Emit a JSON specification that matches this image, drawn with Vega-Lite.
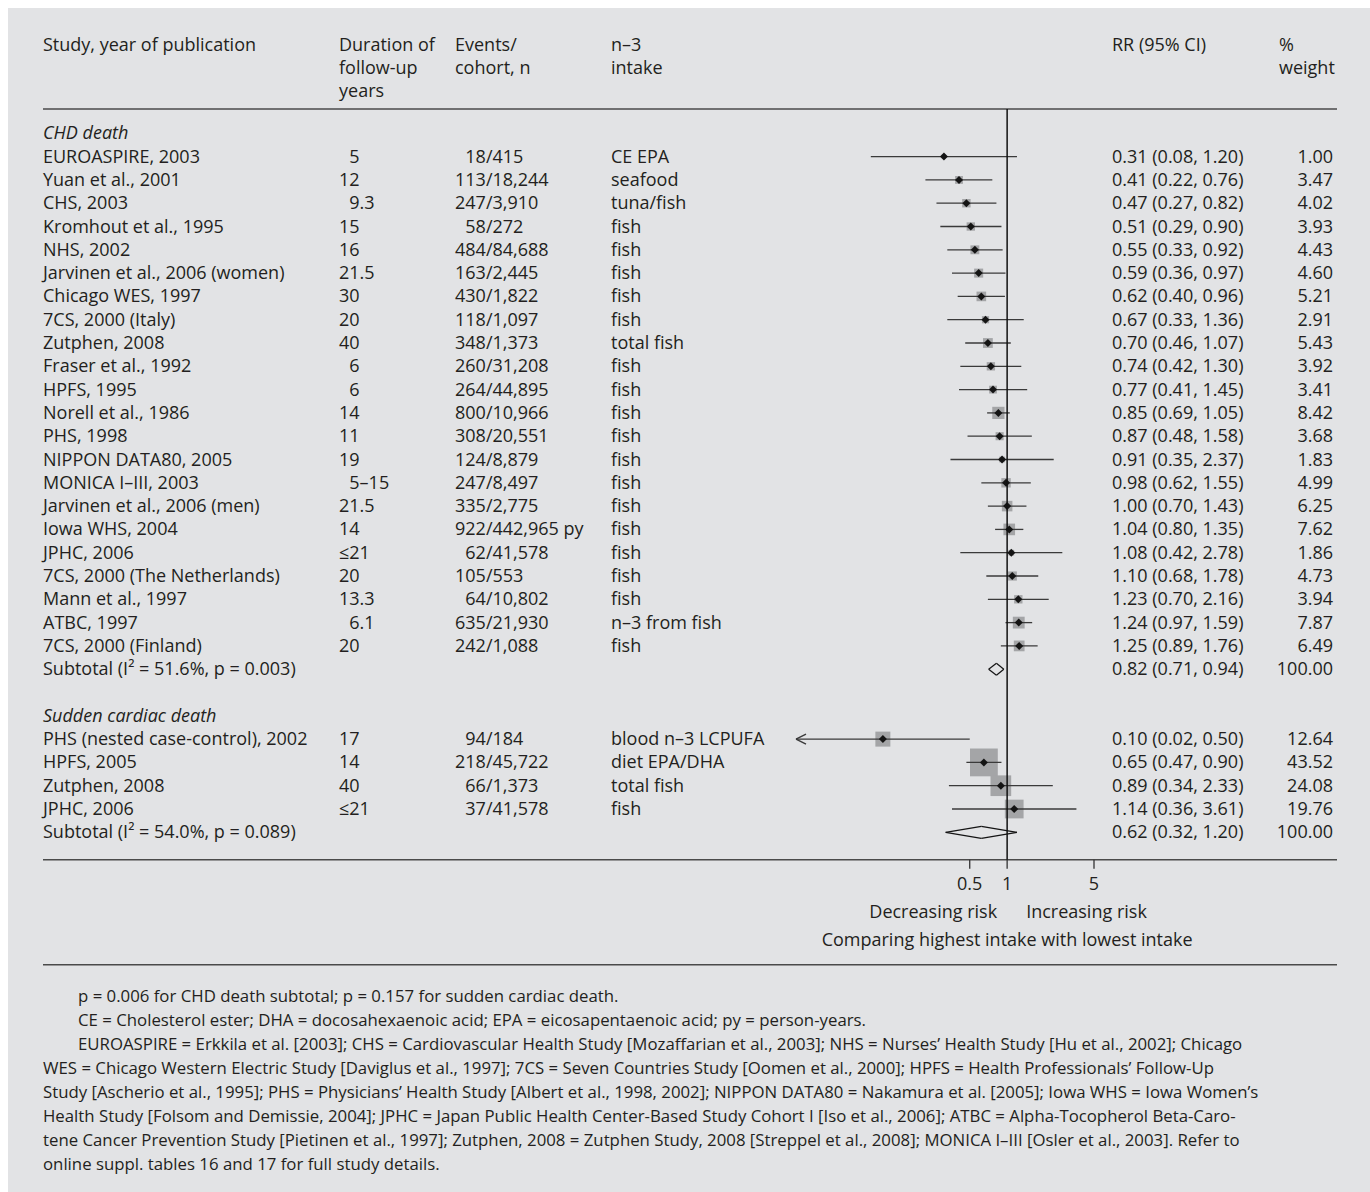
{
  "$schema": "https://vega.github.io/schema/vega-lite/v6.json",
  "width": 1362,
  "height": 1184,
  "autosize": {"type": "none"},
  "padding": {"left": 8, "top": 8, "right": 0, "bottom": 0},
  "background": "#ffffff",
  "config": {
    "view": {"fill": "#e2e3e5", "stroke": null},
    "text": {"font": "Open Sans", "fontSize": 18, "color": "#231f20", "lineBreak": "\n", "lineHeight": 23, "dy": 1}
  },
  "datasets": {
    "rows": [
      {"r": -3.79, "kind": "head", "study": "Study, year of publication", "dur": "Duration of\nfollow-up\nyears", "events": "Events/\ncohort, n", "intake": "n–3\nintake", "rr": "RR (95% CI)", "wtHead": "%\nweight"},
      {"r": 0, "kind": "label", "study": "CHD death"},
      {"r": 1, "kind": "study", "study": "EUROASPIRE, 2003", "dur": "\u200b\u20075", "events": "\u200b\u200718/415", "intake": "CE EPA", "est": 0.31, "lo": 0.08, "hi": 1.20, "rr": "0.31 (0.08, 1.20)", "wt": 1.00},
      {"r": 2, "kind": "study", "study": "Yuan et al., 2001", "dur": "12", "events": "113/18,244", "intake": "seafood", "est": 0.41, "lo": 0.22, "hi": 0.76, "rr": "0.41 (0.22, 0.76)", "wt": 3.47},
      {"r": 3, "kind": "study", "study": "CHS, 2003", "dur": "\u200b\u20079.3", "events": "247/3,910", "intake": "tuna/fish", "est": 0.47, "lo": 0.27, "hi": 0.82, "rr": "0.47 (0.27, 0.82)", "wt": 4.02},
      {"r": 4, "kind": "study", "study": "Kromhout et al., 1995", "dur": "15", "events": "\u200b\u200758/272", "intake": "fish", "est": 0.51, "lo": 0.29, "hi": 0.90, "rr": "0.51 (0.29, 0.90)", "wt": 3.93},
      {"r": 5, "kind": "study", "study": "NHS, 2002", "dur": "16", "events": "484/84,688", "intake": "fish", "est": 0.55, "lo": 0.33, "hi": 0.92, "rr": "0.55 (0.33, 0.92)", "wt": 4.43},
      {"r": 6, "kind": "study", "study": "Jarvinen et al., 2006 (women)", "dur": "21.5", "events": "163/2,445", "intake": "fish", "est": 0.59, "lo": 0.36, "hi": 0.97, "rr": "0.59 (0.36, 0.97)", "wt": 4.60},
      {"r": 7, "kind": "study", "study": "Chicago WES, 1997", "dur": "30", "events": "430/1,822", "intake": "fish", "est": 0.62, "lo": 0.40, "hi": 0.96, "rr": "0.62 (0.40, 0.96)", "wt": 5.21},
      {"r": 8, "kind": "study", "study": "7CS, 2000 (Italy)", "dur": "20", "events": "118/1,097", "intake": "fish", "est": 0.67, "lo": 0.33, "hi": 1.36, "rr": "0.67 (0.33, 1.36)", "wt": 2.91},
      {"r": 9, "kind": "study", "study": "Zutphen, 2008", "dur": "40", "events": "348/1,373", "intake": "total fish", "est": 0.70, "lo": 0.46, "hi": 1.07, "rr": "0.70 (0.46, 1.07)", "wt": 5.43},
      {"r": 10, "kind": "study", "study": "Fraser et al., 1992", "dur": "\u200b\u20076", "events": "260/31,208", "intake": "fish", "est": 0.74, "lo": 0.42, "hi": 1.30, "rr": "0.74 (0.42, 1.30)", "wt": 3.92},
      {"r": 11, "kind": "study", "study": "HPFS, 1995", "dur": "\u200b\u20076", "events": "264/44,895", "intake": "fish", "est": 0.77, "lo": 0.41, "hi": 1.45, "rr": "0.77 (0.41, 1.45)", "wt": 3.41},
      {"r": 12, "kind": "study", "study": "Norell et al., 1986", "dur": "14", "events": "800/10,966", "intake": "fish", "est": 0.85, "lo": 0.69, "hi": 1.05, "rr": "0.85 (0.69, 1.05)", "wt": 8.42},
      {"r": 13, "kind": "study", "study": "PHS, 1998", "dur": "11", "events": "308/20,551", "intake": "fish", "est": 0.87, "lo": 0.48, "hi": 1.58, "rr": "0.87 (0.48, 1.58)", "wt": 3.68},
      {"r": 14, "kind": "study", "study": "NIPPON DATA80, 2005", "dur": "19", "events": "124/8,879", "intake": "fish", "est": 0.91, "lo": 0.35, "hi": 2.37, "rr": "0.91 (0.35, 2.37)", "wt": 1.83},
      {"r": 15, "kind": "study", "study": "MONICA I–III, 2003", "dur": "\u200b\u20075–15", "events": "247/8,497", "intake": "fish", "est": 0.98, "lo": 0.62, "hi": 1.55, "rr": "0.98 (0.62, 1.55)", "wt": 4.99},
      {"r": 16, "kind": "study", "study": "Jarvinen et al., 2006 (men)", "dur": "21.5", "events": "335/2,775", "intake": "fish", "est": 1.00, "lo": 0.70, "hi": 1.43, "rr": "1.00 (0.70, 1.43)", "wt": 6.25},
      {"r": 17, "kind": "study", "study": "Iowa WHS, 2004", "dur": "14", "events": "922/442,965 py", "intake": "fish", "est": 1.04, "lo": 0.80, "hi": 1.35, "rr": "1.04 (0.80, 1.35)", "wt": 7.62},
      {"r": 18, "kind": "study", "study": "JPHC, 2006", "dur": "≤21", "events": "\u200b\u200762/41,578", "intake": "fish", "est": 1.08, "lo": 0.42, "hi": 2.78, "rr": "1.08 (0.42, 2.78)", "wt": 1.86},
      {"r": 19, "kind": "study", "study": "7CS, 2000 (The Netherlands)", "dur": "20", "events": "105/553", "intake": "fish", "est": 1.10, "lo": 0.68, "hi": 1.78, "rr": "1.10 (0.68, 1.78)", "wt": 4.73},
      {"r": 20, "kind": "study", "study": "Mann et al., 1997", "dur": "13.3", "events": "\u200b\u200764/10,802", "intake": "fish", "est": 1.23, "lo": 0.70, "hi": 2.16, "rr": "1.23 (0.70, 2.16)", "wt": 3.94},
      {"r": 21, "kind": "study", "study": "ATBC, 1997", "dur": "\u200b\u20076.1", "events": "635/21,930", "intake": "n–3 from fish", "est": 1.24, "lo": 0.97, "hi": 1.59, "rr": "1.24 (0.97, 1.59)", "wt": 7.87},
      {"r": 22, "kind": "study", "study": "7CS, 2000 (Finland)", "dur": "20", "events": "242/1,088", "intake": "fish", "est": 1.25, "lo": 0.89, "hi": 1.76, "rr": "1.25 (0.89, 1.76)", "wt": 6.49},
      {"r": 23, "kind": "sub", "study": "Subtotal (I² = 51.6%, p = 0.003)", "est": 0.82, "lo": 0.71, "hi": 0.94, "rr": "0.82 (0.71, 0.94)", "wt": 100.00},
      {"r": 25, "kind": "label", "study": "Sudden cardiac death"},
      {"r": 26, "kind": "study", "study": "PHS (nested case-control), 2002", "dur": "17", "events": "\u200b\u200794/184", "intake": "blood n–3 LCPUFA", "est": 0.10, "lo": 0.02, "hi": 0.50, "rr": "0.10 (0.02, 0.50)", "wt": 12.64},
      {"r": 27, "kind": "study", "study": "HPFS, 2005", "dur": "14", "events": "218/45,722", "intake": "diet EPA/DHA", "est": 0.65, "lo": 0.47, "hi": 0.90, "rr": "0.65 (0.47, 0.90)", "wt": 43.52},
      {"r": 28, "kind": "study", "study": "Zutphen, 2008", "dur": "40", "events": "\u200b\u200766/1,373", "intake": "total fish", "est": 0.89, "lo": 0.34, "hi": 2.33, "rr": "0.89 (0.34, 2.33)", "wt": 24.08},
      {"r": 29, "kind": "study", "study": "JPHC, 2006", "dur": "≤21", "events": "\u200b\u200737/41,578", "intake": "fish", "est": 1.14, "lo": 0.36, "hi": 3.61, "rr": "1.14 (0.36, 3.61)", "wt": 19.76},
      {"r": 30, "kind": "sub", "study": "Subtotal (I² = 54.0%, p = 0.089)", "est": 0.62, "lo": 0.32, "hi": 1.20, "rr": "0.62 (0.32, 1.20)", "wt": 100.00}
    ],
    "ticks": [
      {"v": 0.5, "label": "0.5"},
      {"v": 1, "label": "1"},
      {"v": 5, "label": "5"}
    ],
    "notes": [
      {"block": "a", "text": "p = 0.006 for CHD death subtotal; p = 0.157 for sudden cardiac death.\nCE = Cholesterol ester; DHA = docosahexaenoic acid; EPA = eicosapentaenoic acid; py = person-years.\nEUROASPIRE = Erkkila et al. [2003]; CHS = Cardiovascular Health Study [Mozaffarian et al., 2003]; NHS = Nurses’ Health Study [Hu et al., 2002]; Chicago"},
      {"block": "b", "text": "WES = Chicago Western Electric Study [Daviglus et al., 1997]; 7CS = Seven Countries Study [Oomen et al., 2000]; HPFS =  Health Professionals’ Follow-Up\nStudy [Ascherio et al., 1995]; PHS = Physicians’ Health Study [Albert et al., 1998, 2002]; NIPPON DATA80 = Nakamura et al. [2005]; Iowa WHS = Iowa Women’s\nHealth Study [Folsom and Demissie, 2004]; JPHC = Japan Public Health Center-Based Study Cohort I [Iso et al., 2006]; ATBC = Alpha-Tocopherol Beta-Caro-\ntene Cancer Prevention Study [Pietinen et al., 1997]; Zutphen, 2008 = Zutphen Study, 2008 [Streppel et al., 2008]; MONICA I–III [Osler et al., 2003]. Refer to\nonline suppl. tables 16 and 17 for full study details."}
    ]
  },
  "resolve": {"scale": {"x": "independent"}},
  "layer": [
    {
      "layer": [
        {
          "data": {"name": "rows"},
          "transform": [{"filter": "datum.kind != 'label'"}],
          "mark": {"type": "text", "align": "left", "baseline": "middle"},
          "encoding": {
            "x": {"datum": 35, "type": "quantitative", "scale": {"domain": [0, 1362], "nice": false, "zero": false}, "axis": null},
            "y": {"field": "r", "type": "quantitative", "scale": {"domain": [-5.378, 45.437], "reverse": true, "nice": false, "zero": false}, "axis": null},
            "text": {"field": "study"}
          }
        },
        {
          "data": {"name": "rows"},
          "transform": [{"filter": "datum.kind == 'label'"}],
          "mark": {"type": "text", "align": "left", "baseline": "middle", "fontStyle": "italic"},
          "encoding": {
            "x": {"datum": 35, "type": "quantitative", "axis": null},
            "y": {"field": "r", "type": "quantitative", "axis": null},
            "text": {"field": "study"}
          }
        },
        {
          "data": {"name": "rows"},
          "transform": [{"filter": "isValid(datum.dur)"}],
          "mark": {"type": "text", "align": "left", "baseline": "middle"},
          "encoding": {
            "x": {"datum": 331, "type": "quantitative", "axis": null},
            "y": {"field": "r", "type": "quantitative", "axis": null},
            "text": {"field": "dur"}
          }
        },
        {
          "data": {"name": "rows"},
          "transform": [{"filter": "isValid(datum.events)"}],
          "mark": {"type": "text", "align": "left", "baseline": "middle"},
          "encoding": {
            "x": {"datum": 447, "type": "quantitative", "axis": null},
            "y": {"field": "r", "type": "quantitative", "axis": null},
            "text": {"field": "events"}
          }
        },
        {
          "data": {"name": "rows"},
          "transform": [{"filter": "isValid(datum.intake)"}],
          "mark": {"type": "text", "align": "left", "baseline": "middle"},
          "encoding": {
            "x": {"datum": 603, "type": "quantitative", "axis": null},
            "y": {"field": "r", "type": "quantitative", "axis": null},
            "text": {"field": "intake"}
          }
        },
        {
          "data": {"name": "rows"},
          "transform": [{"filter": "isValid(datum.rr)"}],
          "mark": {"type": "text", "align": "left", "baseline": "middle"},
          "encoding": {
            "x": {"datum": 1104, "type": "quantitative", "axis": null},
            "y": {"field": "r", "type": "quantitative", "axis": null},
            "text": {"field": "rr"}
          }
        },
        {
          "data": {"name": "rows"},
          "transform": [{"filter": "isValid(datum.wt)"}],
          "mark": {"type": "text", "align": "right", "baseline": "middle"},
          "encoding": {
            "x": {"datum": 1325, "type": "quantitative", "axis": null},
            "y": {"field": "r", "type": "quantitative", "axis": null},
            "text": {"field": "wt", "type": "quantitative", "format": ".2f"}
          }
        },
        {
          "data": {"name": "rows"},
          "transform": [{"filter": "isValid(datum.wtHead)"}],
          "mark": {"type": "text", "align": "left", "baseline": "middle"},
          "encoding": {
            "x": {"datum": 1271, "type": "quantitative", "axis": null},
            "y": {"field": "r", "type": "quantitative", "axis": null},
            "text": {"field": "wtHead"}
          }
        },
        {
          "data": {"values": [{}]},
          "mark": {"type": "rule", "color": "#4a4a4a", "strokeWidth": 1.5},
          "encoding": {
            "x": {"datum": 35, "type": "quantitative", "axis": null},
            "x2": {"datum": 1329},
            "y": {"datum": -1.043, "type": "quantitative", "axis": null}
          }
        },
        {
          "data": {"values": [{}]},
          "mark": {"type": "rule", "color": "#4a4a4a", "strokeWidth": 1.5},
          "encoding": {
            "x": {"datum": 35, "type": "quantitative", "axis": null},
            "x2": {"datum": 1329},
            "y": {"datum": 31.18, "type": "quantitative", "axis": null}
          }
        },
        {
          "data": {"values": [{}]},
          "mark": {"type": "rule", "color": "#4a4a4a", "strokeWidth": 1.5},
          "encoding": {
            "x": {"datum": 35, "type": "quantitative", "axis": null},
            "x2": {"datum": 1329},
            "y": {"datum": 35.687, "type": "quantitative", "axis": null}
          }
        },
        {
          "data": {"name": "notes"},
          "transform": [{"filter": "datum.block == 'a'"}],
          "mark": {"type": "text", "align": "left", "baseline": "middle", "lineHeight": 24, "fontSize": 16.8},
          "encoding": {
            "x": {"datum": 70, "type": "quantitative", "axis": null},
            "y": {"datum": 37.027, "type": "quantitative", "axis": null},
            "text": {"field": "text"}
          }
        },
        {
          "data": {"name": "notes"},
          "transform": [{"filter": "datum.block == 'b'"}],
          "mark": {"type": "text", "align": "left", "baseline": "middle", "lineHeight": 24, "fontSize": 16.8},
          "encoding": {
            "x": {"datum": 35, "type": "quantitative", "axis": null},
            "y": {"datum": 40.117, "type": "quantitative", "axis": null},
            "text": {"field": "text"}
          }
        }
      ]
    },
    {
      "layer": [
        {
          "data": {"name": "rows"},
          "transform": [{"filter": "datum.kind == 'study'"}],
          "mark": {"type": "point", "shape": "square", "filled": true, "color": "#a4a5a7", "opacity": 1, "strokeWidth": 0},
          "encoding": {
            "x": {"field": "est", "type": "quantitative", "scale": {"type": "log", "domain": [0.02, 5], "range": [788, 1086], "nice": false}, "axis": null},
            "y": {"field": "r", "type": "quantitative", "axis": null},
            "size": {"field": "wt", "type": "quantitative", "scale": {"domain": [0, 45], "range": [0, 800], "zero": true}, "legend": null}
          }
        },
        {
          "data": {"name": "rows"},
          "transform": [{"filter": "datum.kind == 'study'"}],
          "mark": {"type": "rule", "color": "#3a3a3a", "strokeWidth": 1.3},
          "encoding": {
            "x": {"field": "lo", "type": "quantitative", "axis": null},
            "x2": {"field": "hi"},
            "y": {"field": "r", "type": "quantitative", "axis": null}
          }
        },
        {
          "data": {"name": "rows"},
          "transform": [{"filter": "datum.kind == 'study' && datum.lo <= 0.02"}],
          "mark": {"type": "rule", "color": "#3a3a3a", "strokeWidth": 1.3, "x2Offset": 10, "y2Offset": -5},
          "encoding": {
            "x": {"field": "lo", "type": "quantitative", "axis": null},
            "x2": {"field": "lo"},
            "y": {"field": "r", "type": "quantitative", "axis": null},
            "y2": {"field": "r"}
          }
        },
        {
          "data": {"name": "rows"},
          "transform": [{"filter": "datum.kind == 'study' && datum.lo <= 0.02"}],
          "mark": {"type": "rule", "color": "#3a3a3a", "strokeWidth": 1.3, "x2Offset": 10, "y2Offset": 5},
          "encoding": {
            "x": {"field": "lo", "type": "quantitative", "axis": null},
            "x2": {"field": "lo"},
            "y": {"field": "r", "type": "quantitative", "axis": null},
            "y2": {"field": "r"}
          }
        },
        {
          "data": {"name": "rows"},
          "transform": [{"filter": "datum.kind == 'study'"}],
          "mark": {"type": "point", "shape": "diamond", "filled": true, "color": "#141414", "opacity": 1, "size": 64},
          "encoding": {
            "x": {"field": "est", "type": "quantitative", "axis": null},
            "y": {"field": "r", "type": "quantitative", "axis": null}
          }
        },
        {
          "data": {"name": "rows"},
          "transform": [{"filter": "datum.kind == 'sub'"}],
          "mark": {"type": "rule", "color": "#141414", "strokeWidth": 1.2, "y2Offset": -6},
          "encoding": {
            "x": {"field": "lo", "type": "quantitative", "axis": null},
            "x2": {"field": "est"},
            "y": {"field": "r", "type": "quantitative", "axis": null},
            "y2": {"field": "r"}
          }
        },
        {
          "data": {"name": "rows"},
          "transform": [{"filter": "datum.kind == 'sub'"}],
          "mark": {"type": "rule", "color": "#141414", "strokeWidth": 1.2, "y2Offset": 6},
          "encoding": {
            "x": {"field": "lo", "type": "quantitative", "axis": null},
            "x2": {"field": "est"},
            "y": {"field": "r", "type": "quantitative", "axis": null},
            "y2": {"field": "r"}
          }
        },
        {
          "data": {"name": "rows"},
          "transform": [{"filter": "datum.kind == 'sub'"}],
          "mark": {"type": "rule", "color": "#141414", "strokeWidth": 1.2, "yOffset": -6},
          "encoding": {
            "x": {"field": "est", "type": "quantitative", "axis": null},
            "x2": {"field": "hi"},
            "y": {"field": "r", "type": "quantitative", "axis": null},
            "y2": {"field": "r"}
          }
        },
        {
          "data": {"name": "rows"},
          "transform": [{"filter": "datum.kind == 'sub'"}],
          "mark": {"type": "rule", "color": "#141414", "strokeWidth": 1.2, "yOffset": 6},
          "encoding": {
            "x": {"field": "est", "type": "quantitative", "axis": null},
            "x2": {"field": "hi"},
            "y": {"field": "r", "type": "quantitative", "axis": null},
            "y2": {"field": "r"}
          }
        },
        {
          "data": {"values": [{}]},
          "mark": {"type": "rule", "color": "#111111", "strokeWidth": 1.5},
          "encoding": {
            "x": {"datum": 1, "type": "quantitative", "axis": null},
            "y": {"datum": -1.043, "type": "quantitative", "axis": null},
            "y2": {"datum": 31.18}
          }
        },
        {
          "data": {"name": "ticks"},
          "mark": {"type": "rule", "color": "#333333", "strokeWidth": 1.3, "y2Offset": 9},
          "encoding": {
            "x": {"field": "v", "type": "quantitative", "axis": null},
            "y": {"datum": 31.18, "type": "quantitative", "axis": null},
            "y2": {"datum": 31.18}
          }
        },
        {
          "data": {"name": "ticks"},
          "mark": {"type": "text", "align": "center", "baseline": "middle"},
          "encoding": {
            "x": {"field": "v", "type": "quantitative", "axis": null},
            "y": {"datum": 32.207, "type": "quantitative", "axis": null},
            "text": {"field": "label"}
          }
        },
        {
          "data": {"values": [{"label": "Decreasing risk"}]},
          "mark": {"type": "text", "align": "right", "baseline": "middle", "dx": -10},
          "encoding": {
            "x": {"datum": 1, "type": "quantitative", "axis": null},
            "y": {"datum": 33.42, "type": "quantitative", "axis": null},
            "text": {"field": "label"}
          }
        },
        {
          "data": {"values": [{"label": "Increasing risk"}]},
          "mark": {"type": "text", "align": "left", "baseline": "middle", "dx": 19},
          "encoding": {
            "x": {"datum": 1, "type": "quantitative", "axis": null},
            "y": {"datum": 33.42, "type": "quantitative", "axis": null},
            "text": {"field": "label"}
          }
        },
        {
          "data": {"values": [{"label": "Comparing highest intake with lowest intake"}]},
          "mark": {"type": "text", "align": "center", "baseline": "middle"},
          "encoding": {
            "x": {"datum": 1, "type": "quantitative", "axis": null},
            "y": {"datum": 34.62, "type": "quantitative", "axis": null},
            "text": {"field": "label"}
          }
        }
      ]
    }
  ]
}
